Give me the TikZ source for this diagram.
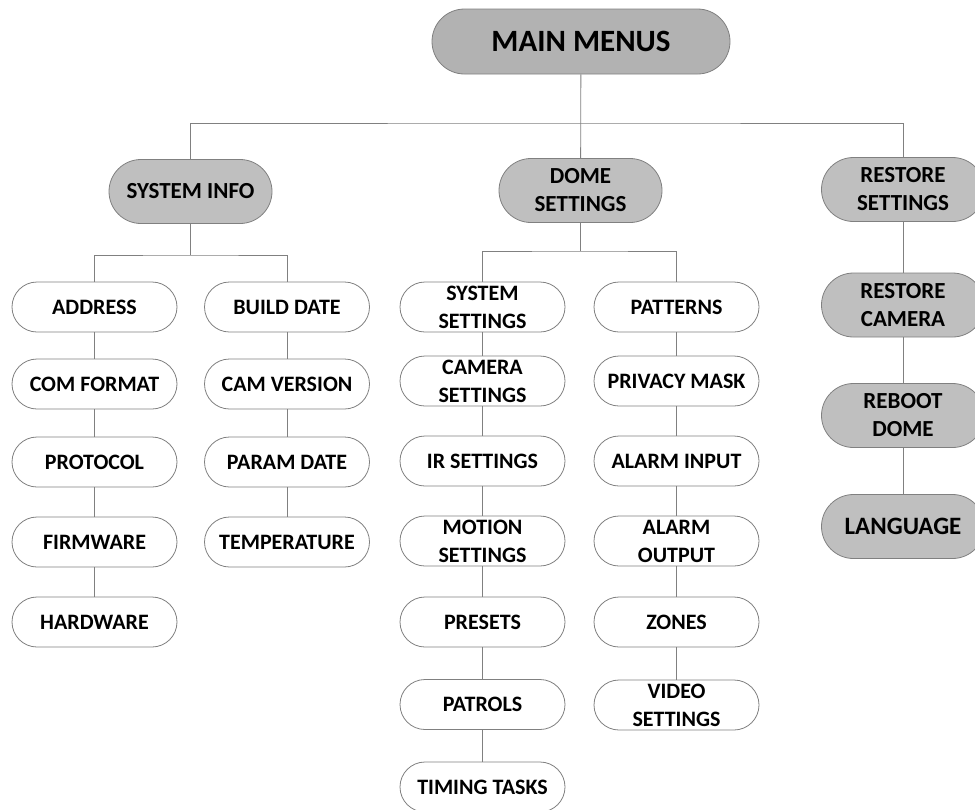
\documentclass[tikz,border=0pt]{standalone}
\usepackage{fontspec}
\setmainfont{Carlito}
\definecolor{linegray}{RGB}{128,128,128}
\definecolor{boxgray}{RGB}{191,191,191}
\definecolor{topgray}{RGB}{178,178,178}

\begin{document}
\begin{tikzpicture}[x=1pt, y=-1pt,
    menu/.style={draw=linegray, line width=0.8pt, fill=white, rounded corners=25pt,
        minimum width=165pt, minimum height=50pt, inner sep=0pt, align=center,
        font=\fontsize{22}{28}\selectfont\bfseries},
    group/.style={menu, fill=boxgray, rounded corners=32pt, minimum width=163pt,
        minimum height=64pt, font=\fontsize{23}{28}\selectfont\bfseries},
    link/.style={draw=linegray, line width=0.8pt}]
    \useasboundingbox (0,0) rectangle (975,809);
    \clip (0,0) rectangle (975,809);

    % Top level
    \node[group, fill=topgray, rounded corners=32.5pt, minimum width=298pt, minimum height=65pt,
        font=\fontsize{31}{36}\selectfont\bfseries] (main) at (581,41.5) {MAIN MENUS};
    \node[group] (sysinfo) at (190.5,191.5) {SYSTEM INFO};
    \node[group] (dome) at (580.5,190.5) {DOME\\SETTINGS};
    \node[group] (rset) at (903,189.5) {RESTORE\\SETTINGS};

    % Restore column
    \node[group] (rcam) at (903,305) {RESTORE\\CAMERA};
    \node[group] (reboot) at (903,415.5) {REBOOT\\DOME};
    \node[group, font=\fontsize{25}{30}\selectfont\bfseries] (language) at (903,526.5) {LANGUAGE};

    % System info columns
    \foreach \name/\y/\txt in {address/307/ADDRESS, comformat/384/COM FORMAT,
        protocol/462/PROTOCOL, firmware/542/FIRMWARE, hardware/622/HARDWARE}
        \node[menu] (\name) at (94.5,\y) {\txt};
    \foreach \name/\y/\txt in {builddate/307/BUILD DATE, camversion/384/CAM VERSION,
        paramdate/462/PARAM DATE, temperature/542/TEMPERATURE}
        \node[menu] (\name) at (287,\y) {\txt};

    % Dome settings columns
    \foreach \name/\y/\txt in {syssettings/307/{SYSTEM\\SETTINGS}, camsettings/381/{CAMERA\\SETTINGS},
        irsettings/461/IR SETTINGS, motion/541/{MOTION\\SETTINGS}, presets/622/PRESETS,
        patrols/704.5/PATROLS, timing/787/TIMING TASKS}
        \node[menu] (\name) at (482.5,\y) {\txt};
    \foreach \name/\y/\txt in {patterns/307/PATTERNS, privacy/381/PRIVACY MASK,
        alarmin/461/ALARM INPUT, alarmout/541/{ALARM\\OUTPUT}, zones/622/ZONES,
        video/705/{VIDEO\\SETTINGS}}
        \node[menu] (\name) at (676.5,\y) {\txt};

    % Connectors
    \coordinate (topbar) at (581,123);
    \coordinate (sysbar) at (190.5,255);
    \coordinate (domebar) at (580.5,251);
    \draw[link] (main) -- (dome);
    \draw[link] (sysinfo.north) |- (topbar) -| (rset.north);
    \draw[link] (sysinfo) -- (sysbar);
    \draw[link] (address.north) |- (sysbar) -| (builddate.north);
    \draw[link] (dome) -- (domebar);
    \draw[link] (syssettings.north) |- (domebar) -| (patterns.north);
    \foreach \a/\b in {address/comformat, comformat/protocol, protocol/firmware, firmware/hardware,
        builddate/camversion, camversion/paramdate, paramdate/temperature,
        syssettings/camsettings, camsettings/irsettings, irsettings/motion, motion/presets,
        presets/patrols, patrols/timing,
        patterns/privacy, privacy/alarmin, alarmin/alarmout, alarmout/zones, zones/video,
        rset/rcam, rcam/reboot, reboot/language}
        \draw[link] (\a) -- (\b);
\end{tikzpicture}
\end{document}
